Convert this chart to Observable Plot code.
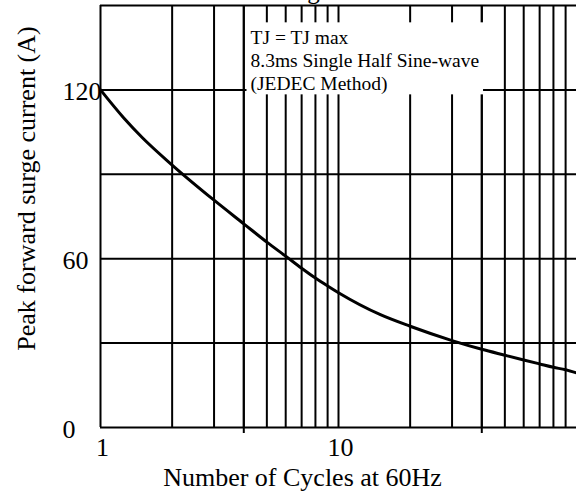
<!DOCTYPE html>
<html><head><meta charset="utf-8">
<script src="https://cdn.jsdelivr.net/npm/d3@7"></script>
<script src="https://cdn.jsdelivr.net/npm/@observablehq/plot@0.6"></script>
<style>
html,body{margin:0;padding:0;background:#fff;overflow:hidden}
#wrap{position:relative;width:576px;height:495px;font-family:"Liberation Serif","Times New Roman",serif;color:#000}
#title{position:absolute;left:0;top:-22px;width:576px;text-align:center;font-size:25px;line-height:25px;white-space:nowrap}
</style></head><body>
<div id="wrap"><div id="title">Maximum Surge Current</div></div>
<script>
// Data
const cycles  = [1, 1.25, 1.5, 2, 3, 4, 5, 6, 7, 8, 9, 10, 15, 20, 30, 40, 50, 60, 70, 80, 90, 100];
const current = [120, 110.1, 103, 93.3, 80.8, 72.4, 65.9, 60.9, 56.6, 53.1, 50.3, 47.9, 40.1, 36.0, 30.9, 27.8, 25.7, 24.0, 22.6, 21.4, 20.5, 19.4];

const xTicks = [1, 10];
const yTicks = [0, 60, 120];
const gridX = [2, 3, 4, 5, 6, 7, 8, 9, 10, 20, 30, 40, 50, 60, 70, 80, 90];
const gridY = [30, 60, 90, 120];
const frameX = [1];
const frameY = [0, 150];
const stubX = [4, 40];
const xLabel = "Number of Cycles at 60Hz";
const yLabel = "Peak forward surge current (A)";
const noteLines = ["TJ = TJ max", "8.3ms Single Half Sine-wave", "(JEDEC Method)"];

const data = cycles.map((c, i) => ({cycles: c, current: current[i]}));
const FONT = '"Liberation Serif","Times New Roman",serif';

const chart = Plot.plot({
  width: 576, height: 495,
  marginLeft: 100, marginRight: 0, marginTop: 5, marginBottom: 68,
  style: {fontFamily: FONT, fontSize: "26px", color: "#000", background: "#fff"},
  x: {type: "log", domain: [1, 100]},
  y: {domain: [0, 150]},
  marks: [
    Plot.ruleX(gridX, {stroke: "#000", strokeWidth: 2}),
    Plot.ruleX(stubX, {stroke: "#000", strokeWidth: 2, insetBottom: -6}),
    Plot.ruleY(gridY, {stroke: "#000", strokeWidth: 2}),
    Plot.ruleX(frameX, {stroke: "#000", strokeWidth: 2}),
    Plot.ruleY(frameY, {stroke: "#000", strokeWidth: 2}),
    Plot.text([noteLines.join("\n")], {frameAnchor: "top-left", textAnchor: "start", lineAnchor: "top",
      dx: 150, dy: 22.5, fontSize: 19.5, lineHeight: 1.18}),
    Plot.line(data, {x: "cycles", y: "current", stroke: "#000", strokeWidth: 3, curve: "monotone-x"}),
    Plot.axisY(yTicks, {tickSize: 0, tickPadding: 38, textAnchor: "start", label: null, fontSize: 26, dy: 2, tickFormat: String}),
    Plot.axisX(xTicks, {tickSize: 0, tickPadding: 10, dx: 2, label: null, fontSize: 26, tickFormat: String}),
    Plot.text([xLabel], {frameAnchor: "bottom", dx: -36, dy: 50, lineAnchor: "middle", fontSize: 26}),
    Plot.text([yLabel], {frameAnchor: "left", textAnchor: "middle", rotate: -90, dx: -74, dy: -28, lineAnchor: "middle", fontSize: 26})
  ]
});
document.getElementById("wrap").append(chart);

// white background box behind the note, sized from the rendered text
const noteText = Array.from(chart.querySelectorAll("text")).find(t => t.textContent.startsWith("TJ"));
if (noteText) {
  const bb = noteText.getBBox();
  const rect = document.createElementNS("http://www.w3.org/2000/svg", "rect");
  const m = noteText.getCTM && noteText.getCTM();
  const ox = m ? m.e : 0, oy = m ? m.f : 0;
  rect.setAttribute("x", ox + bb.x - 4);
  rect.setAttribute("y", oy + bb.y - 5);
  rect.setAttribute("width", bb.width + 8);
  rect.setAttribute("height", bb.height + 4);
  rect.setAttribute("fill", "#fff");
  const g = noteText.parentNode;
  g.parentNode.insertBefore(rect, g);
}
</script>
</body></html>
